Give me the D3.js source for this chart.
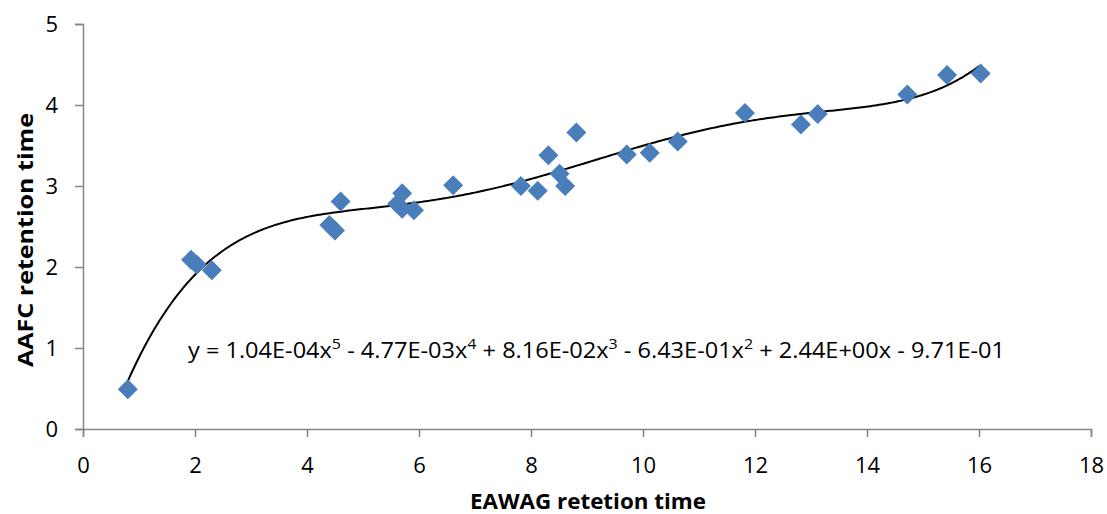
<!DOCTYPE html>
<html>
<head>
<meta charset="utf-8">
<script src="https://cdn.jsdelivr.net/npm/d3@7"></script>
<style>
  html, body { margin: 0; padding: 0; background: #fff; }
  svg { display: block; }
  text { font-family: "Open Sans", "Noto Sans", sans-serif; }
</style>
</head>
<body>
<svg id="chart" width="1107" height="514"></svg>
<script>
// Data
const eawag = [0.8, 1.93, 2.03, 2.30, 4.40, 4.50, 4.60, 5.61, 5.70, 5.70, 5.91, 6.61,
               7.82, 8.12, 8.31, 8.51, 8.61, 8.81, 9.71, 10.12, 10.62, 11.82, 12.82, 13.12,
               14.72, 15.43, 16.03];
const aafc  = [0.49, 2.09, 2.03, 1.96, 2.52, 2.45, 2.81, 2.78, 2.91, 2.72, 2.70, 3.01,
               3.00, 2.94, 3.38, 3.15, 3.00, 3.66, 3.39, 3.41, 3.55, 3.90, 3.76, 3.89,
               4.13, 4.37, 4.39];
const xTicks = [0, 2, 4, 6, 8, 10, 12, 14, 16, 18];
const yTicks = [0, 1, 2, 3, 4, 5];
const equationParts = [
  ["y = 1.04E-04x", "5"], [" - 4.77E-03x", "4"], [" + 8.16E-02x", "3"],
  [" - 6.43E-01x", "2"], [" + 2.44E+00x - 9.71E-01", null]
];
const xTitle = "EAWAG retetion time";
const yTitle = "AAFC retention time";

// 5th-order least squares polynomial fit (like the spreadsheet trendline)
function polyfit(xs, ys, order) {
  const n = order + 1;
  const A = Array.from({length: n}, () => new Array(n + 1).fill(0));
  for (let k = 0; k < xs.length; k++) {
    const p = [];
    for (let i = 0; i < n; i++) p.push(Math.pow(xs[k], i));
    for (let i = 0; i < n; i++) {
      for (let j = 0; j < n; j++) A[i][j] += p[i] * p[j];
      A[i][n] += p[i] * ys[k];
    }
  }
  for (let c = 0; c < n; c++) {
    let piv = c;
    for (let r = c + 1; r < n; r++) if (Math.abs(A[r][c]) > Math.abs(A[piv][c])) piv = r;
    [A[c], A[piv]] = [A[piv], A[c]];
    for (let r = 0; r < n; r++) {
      if (r === c) continue;
      const f = A[r][c] / A[c][c];
      for (let j = c; j <= n; j++) A[r][j] -= f * A[c][j];
    }
  }
  return A.map((row, i) => row[n] / row[i]);
}
const coef = polyfit(eawag.map(v => v / 10), aafc, 5);
const poly = x => coef.reduce((s, c, i) => s + c * Math.pow(x / 10, i), 0);

const svg = d3.select("#chart");
const x = d3.scaleLinear().domain([0, 18]).range([83, 1091]);
const y = d3.scaleLinear().domain([0, 5]).range([429, 24]);
const axisColor = "#868686";

// axes
const xAxis = svg.append("g").attr("transform", `translate(0,${y(0)})`)
  .call(d3.axisBottom(x).tickValues(xTicks).tickSize(8).tickPadding(20).tickFormat(d3.format("d")));
const yAxis = svg.append("g").attr("transform", `translate(${x(0)},0)`)
  .call(d3.axisLeft(y).tickValues(yTicks).tickSize(8).tickPadding(17).tickFormat(d3.format("d")));
[xAxis, yAxis].forEach(g => {
  g.select(".domain").attr("stroke", axisColor).attr("stroke-width", 1.5);
  g.selectAll(".tick line").attr("stroke", axisColor).attr("stroke-width", 1.5);
  g.selectAll(".tick text").attr("fill", "#000").style("font-size", "22px")
    .style("font-family", "'Open Sans', sans-serif");
});

// trendline
const xs = d3.range(0, 401).map(i => eawag[0] + (d3.max(eawag) - 0.03 - eawag[0]) * i / 400);
svg.append("path")
  .datum(xs)
  .attr("fill", "none")
  .attr("stroke", "#000")
  .attr("stroke-width", 2)
  .attr("d", d3.line().x(d => x(d)).y(d => y(poly(d))).curve(d3.curveLinear));

// markers (diamonds)
const diamond = "M0,-10L10,0L0,10L-10,0Z";
svg.append("g").selectAll("path")
  .data(eawag.map((v, i) => [v, aafc[i]]))
  .join("path")
  .attr("d", diamond)
  .attr("transform", d => `translate(${x(d[0])},${y(d[1])})`)
  .attr("fill", "#4A7EBB");

// equation label
const eq = svg.append("text")
  .attr("x", 188).attr("y", 358)
  .style("font-size", "22px").attr("fill", "#000");
let shift = 0;
equationParts.forEach(([base, sup]) => {
  eq.append("tspan").text(base).attr("dy", shift).style("font-size", "22px");
  shift = 0;
  if (sup) {
    eq.append("tspan").text(sup).attr("dy", -9).style("font-size", "15px");
    shift = 9;
  }
});
eq.attr("textLength", 1005 - 188).attr("lengthAdjust", "spacingAndGlyphs");

// axis titles
svg.append("text")
  .attr("x", 588).attr("y", 509)
  .attr("text-anchor", "middle")
  .attr("textLength", 236).attr("lengthAdjust", "spacingAndGlyphs")
  .style("font-size", "22px").style("font-weight", "bold")
  .text(xTitle);
svg.append("text")
  .attr("transform", `translate(33,240) rotate(-90)`)
  .attr("text-anchor", "middle")
  .attr("textLength", 254).attr("lengthAdjust", "spacingAndGlyphs")
  .style("font-size", "22px").style("font-weight", "bold")
  .text(yTitle);
</script>
</body>
</html>
